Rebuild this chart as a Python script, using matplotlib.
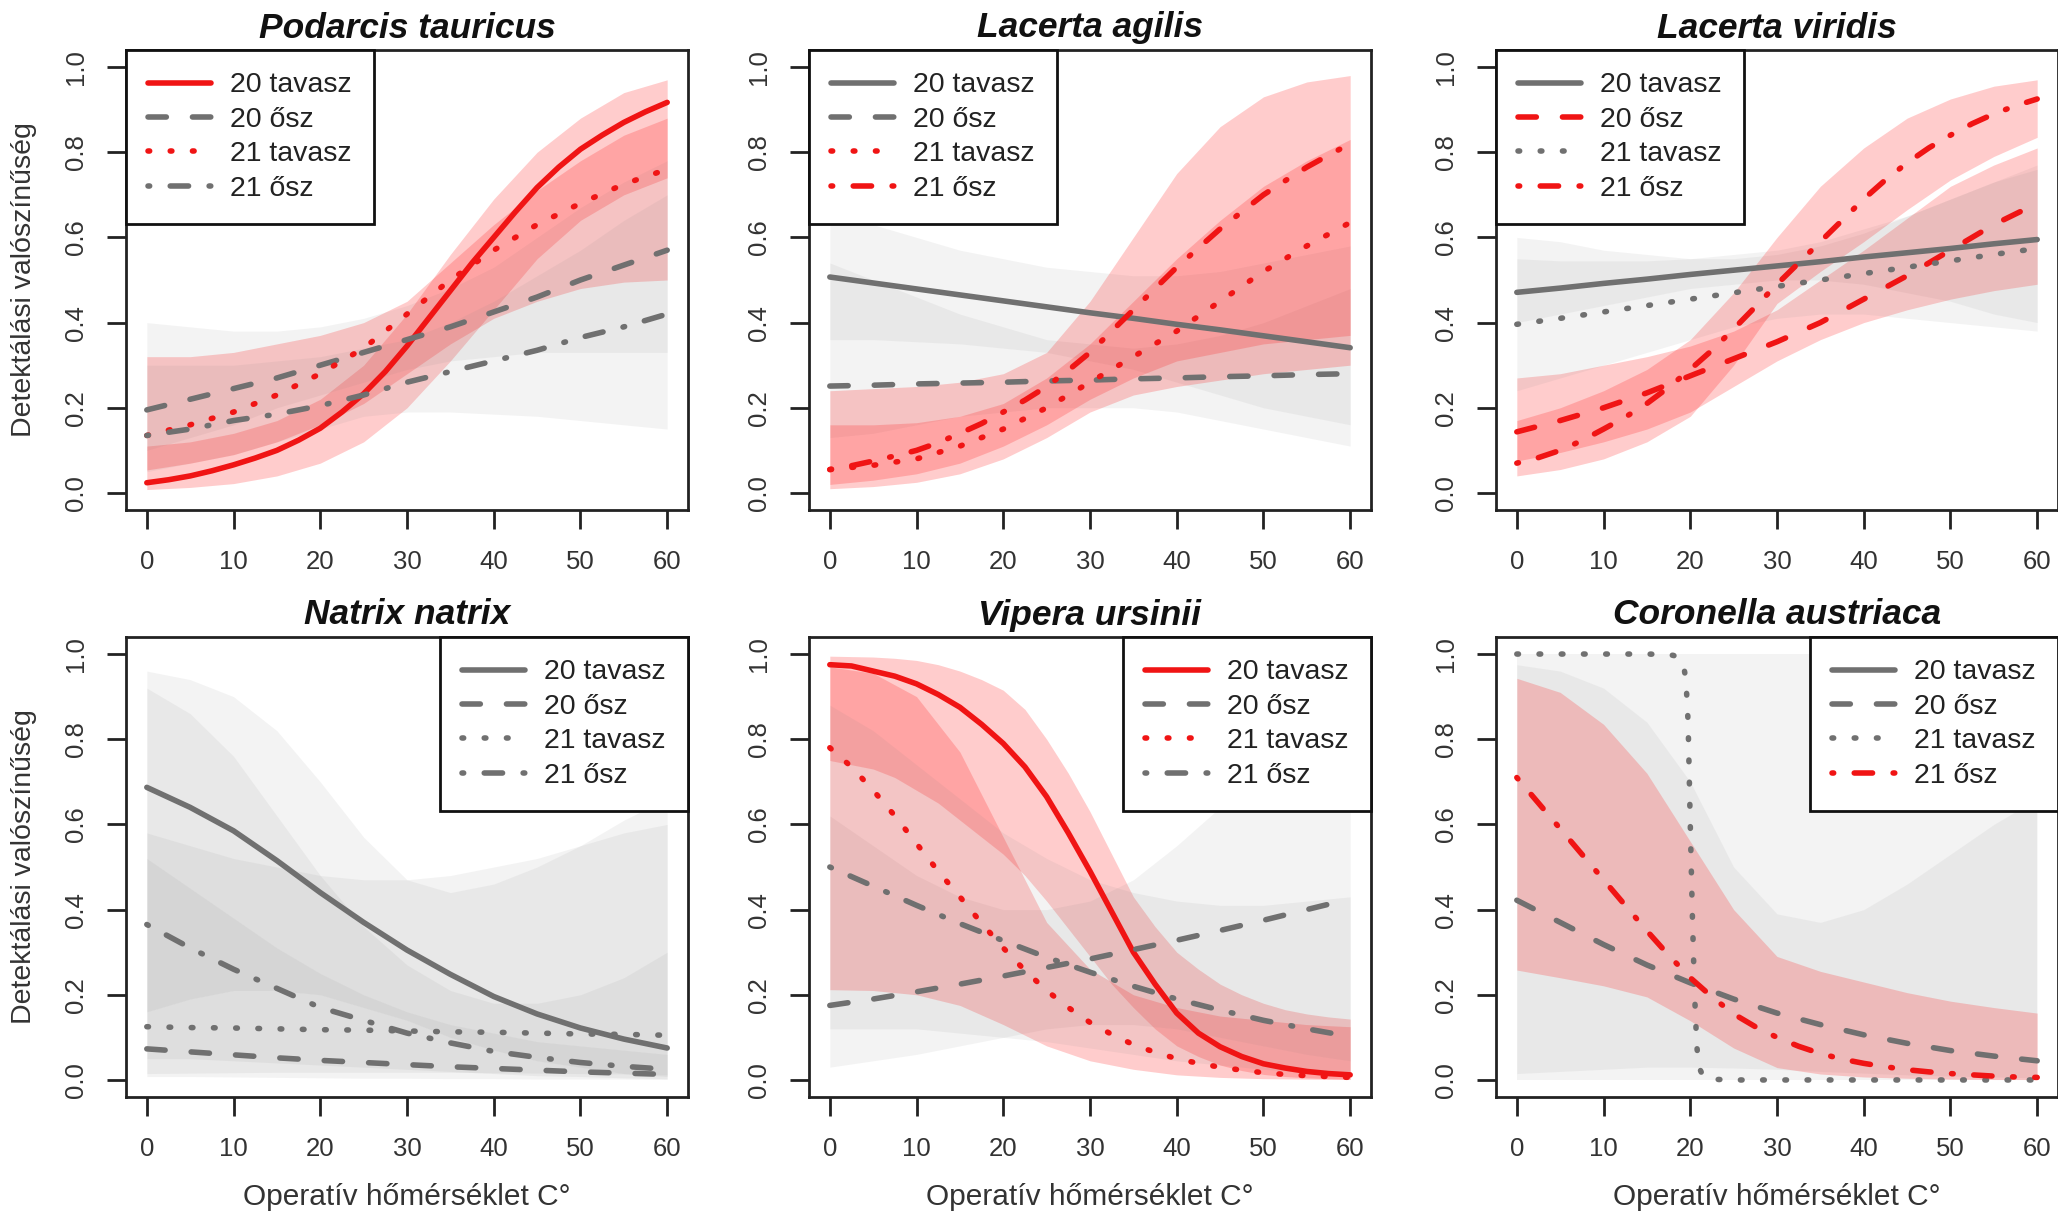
import matplotlib.pyplot as plt
from matplotlib.lines import Line2D

plt.rcParams['font.family'] = ['Liberation Sans', 'DejaVu Sans']
plt.rcParams['lines.dash_capstyle'] = 'round'
plt.rcParams['lines.solid_capstyle'] = 'round'

# operative temperature grids
temp = [0, 5, 10, 15, 20, 25, 30, 35, 40, 45, 50, 55, 60]
temp_fine = [0, 2.5, 5, 7.5, 10, 12.5, 15, 17.5, 20, 22.5, 25, 27.5, 30,
             32.5, 35, 37.5, 40, 42.5, 45, 47.5, 50, 52.5, 55, 57.5, 60]

# ---- Podarcis tauricus ----
pod_t20 = [0.024, 0.031, 0.040, 0.052, 0.066, 0.082, 0.10, 0.124, 0.152, 0.19, 0.233, 0.285, 0.345,
           0.41, 0.475, 0.54, 0.60, 0.66, 0.717, 0.765, 0.807, 0.84, 0.87, 0.895, 0.917]
pod_t20_lo = [0.008, 0.013, 0.022, 0.04, 0.07, 0.12, 0.20, 0.31, 0.43, 0.55, 0.64, 0.70, 0.74]
pod_t20_hi = [0.11, 0.12, 0.14, 0.17, 0.22, 0.30, 0.42, 0.56, 0.69, 0.80, 0.88, 0.94, 0.97]
pod_o20 = [0.195, 0.22, 0.245, 0.27, 0.30, 0.33, 0.36, 0.39, 0.425, 0.46, 0.50, 0.535, 0.57]
pod_o20_lo = [0.10, 0.13, 0.16, 0.20, 0.23, 0.26, 0.29, 0.31, 0.32, 0.33, 0.33, 0.33, 0.33]
pod_o20_hi = [0.40, 0.39, 0.38, 0.38, 0.39, 0.41, 0.44, 0.48, 0.53, 0.60, 0.67, 0.73, 0.78]
pod_t21 = [0.135, 0.16, 0.19, 0.23, 0.28, 0.34, 0.42, 0.50, 0.57, 0.63, 0.68, 0.725, 0.76]
pod_t21_lo = [0.054, 0.07, 0.09, 0.12, 0.16, 0.21, 0.28, 0.35, 0.41, 0.45, 0.48, 0.495, 0.50]
pod_t21_hi = [0.32, 0.32, 0.33, 0.35, 0.37, 0.40, 0.45, 0.54, 0.63, 0.71, 0.78, 0.84, 0.88]
pod_o21 = [0.135, 0.15, 0.17, 0.185, 0.205, 0.23, 0.26, 0.285, 0.31, 0.335, 0.365, 0.39, 0.42]
pod_o21_lo = [0.05, 0.07, 0.09, 0.12, 0.15, 0.18, 0.19, 0.19, 0.185, 0.18, 0.17, 0.16, 0.15]
pod_o21_hi = [0.30, 0.30, 0.30, 0.31, 0.32, 0.34, 0.36, 0.40, 0.45, 0.51, 0.57, 0.64, 0.70]

# ---- Lacerta agilis ----
lag_t20 = [0.507, 0.493, 0.479, 0.465, 0.451, 0.437, 0.423, 0.41, 0.396, 0.383, 0.369, 0.355, 0.341]
lag_t20_lo = [0.36, 0.36, 0.355, 0.35, 0.34, 0.33, 0.31, 0.29, 0.26, 0.23, 0.20, 0.18, 0.16]
lag_t20_hi = [0.655, 0.63, 0.60, 0.57, 0.55, 0.53, 0.52, 0.51, 0.51, 0.52, 0.54, 0.56, 0.58]
lag_o20 = [0.251, 0.253, 0.256, 0.258, 0.26, 0.263, 0.265, 0.268, 0.27, 0.273, 0.275, 0.278, 0.28]
lag_o20_lo = [0.13, 0.14, 0.16, 0.18, 0.19, 0.20, 0.20, 0.20, 0.19, 0.17, 0.15, 0.13, 0.11]
lag_o20_hi = [0.54, 0.50, 0.46, 0.42, 0.39, 0.36, 0.35, 0.34, 0.35, 0.37, 0.40, 0.44, 0.48]
lag_t21 = [0.055, 0.065, 0.08, 0.11, 0.15, 0.20, 0.26, 0.32, 0.38, 0.45, 0.52, 0.58, 0.635]
lag_t21_lo = [0.01, 0.015, 0.025, 0.045, 0.08, 0.13, 0.19, 0.23, 0.25, 0.265, 0.28, 0.29, 0.30]
lag_t21_hi = [0.16, 0.16, 0.165, 0.18, 0.21, 0.27, 0.35, 0.45, 0.55, 0.64, 0.72, 0.78, 0.83]
lag_o21 = [0.055, 0.064, 0.075, 0.087, 0.10, 0.118, 0.14, 0.163, 0.19, 0.218, 0.25, 0.288, 0.33,
           0.38, 0.43, 0.48, 0.53, 0.575, 0.62, 0.66, 0.70, 0.733, 0.765, 0.793, 0.82]
lag_o21_lo = [0.02, 0.03, 0.045, 0.07, 0.11, 0.16, 0.22, 0.27, 0.31, 0.33, 0.35, 0.36, 0.37]
lag_o21_hi = [0.24, 0.245, 0.25, 0.26, 0.28, 0.33, 0.45, 0.60, 0.75, 0.86, 0.93, 0.965, 0.98]

# ---- Lacerta viridis ----
lvi_t20 = [0.471, 0.481, 0.492, 0.502, 0.513, 0.523, 0.533, 0.543, 0.554, 0.564, 0.574, 0.585, 0.595]
lvi_t20_lo = [0.40, 0.42, 0.44, 0.46, 0.48, 0.49, 0.50, 0.50, 0.49, 0.47, 0.45, 0.42, 0.40]
lvi_t20_hi = [0.55, 0.545, 0.545, 0.545, 0.55, 0.56, 0.57, 0.59, 0.62, 0.65, 0.69, 0.73, 0.77]
lvi_o20 = [0.1435, 0.17, 0.20, 0.235, 0.275, 0.315, 0.355, 0.40, 0.455, 0.51, 0.57, 0.63, 0.68]
lvi_o20_lo = [0.075, 0.095, 0.12, 0.15, 0.19, 0.25, 0.31, 0.36, 0.40, 0.43, 0.455, 0.475, 0.49]
lvi_o20_hi = [0.27, 0.28, 0.30, 0.32, 0.345, 0.38, 0.43, 0.50, 0.57, 0.645, 0.72, 0.77, 0.81]
lvi_t21 = [0.396, 0.41, 0.425, 0.44, 0.455, 0.47, 0.485, 0.50, 0.515, 0.53, 0.545, 0.56, 0.574]
lvi_t21_lo = [0.24, 0.27, 0.30, 0.33, 0.36, 0.39, 0.41, 0.42, 0.42, 0.41, 0.40, 0.39, 0.38]
lvi_t21_hi = [0.60, 0.59, 0.57, 0.56, 0.55, 0.55, 0.56, 0.58, 0.61, 0.65, 0.69, 0.73, 0.76]
lvi_o21 = [0.07, 0.083, 0.10, 0.123, 0.15, 0.178, 0.21, 0.248, 0.29, 0.335, 0.385, 0.437, 0.49,
           0.54, 0.59, 0.64, 0.69, 0.735, 0.775, 0.81, 0.84, 0.867, 0.89, 0.909, 0.925]
lvi_o21_lo = [0.04, 0.055, 0.08, 0.12, 0.18, 0.30, 0.445, 0.52, 0.59, 0.665, 0.735, 0.79, 0.835]
lvi_o21_hi = [0.17, 0.20, 0.24, 0.29, 0.36, 0.47, 0.60, 0.72, 0.81, 0.88, 0.925, 0.955, 0.97]

# ---- Natrix natrix ----
nat_t20 = [0.687, 0.64, 0.585, 0.515, 0.44, 0.37, 0.305, 0.248, 0.196, 0.155, 0.122, 0.096, 0.075]
nat_t20_lo = [0.16, 0.19, 0.21, 0.21, 0.20, 0.17, 0.14, 0.10, 0.07, 0.045, 0.03, 0.015, 0.008]
nat_t20_hi = [0.96, 0.94, 0.90, 0.82, 0.70, 0.57, 0.47, 0.44, 0.46, 0.50, 0.55, 0.61, 0.66]
nat_o20 = [0.073, 0.066, 0.059, 0.052, 0.046, 0.041, 0.036, 0.031, 0.027, 0.023, 0.019, 0.016, 0.013]
nat_o20_lo = [0.008, 0.008, 0.007, 0.006, 0.005, 0.004, 0.004, 0.003, 0.003, 0.002, 0.002, 0.002, 0.001]
nat_o20_hi = [0.52, 0.45, 0.38, 0.31, 0.25, 0.20, 0.16, 0.13, 0.11, 0.09, 0.08, 0.07, 0.06]
nat_t21 = [0.125, 0.123, 0.122, 0.12, 0.118, 0.117, 0.115, 0.113, 0.112, 0.11, 0.108, 0.107, 0.105]
nat_t21_lo = [0.015, 0.016, 0.017, 0.018, 0.018, 0.018, 0.018, 0.018, 0.017, 0.016, 0.015, 0.014, 0.012]
nat_t21_hi = [0.58, 0.55, 0.52, 0.50, 0.48, 0.47, 0.47, 0.48, 0.50, 0.52, 0.55, 0.58, 0.60]
nat_o21 = [0.365, 0.31, 0.26, 0.215, 0.17, 0.14, 0.11, 0.087, 0.067, 0.053, 0.041, 0.032, 0.025]
nat_o21_lo = [0.05, 0.05, 0.045, 0.04, 0.035, 0.03, 0.025, 0.02, 0.015, 0.01, 0.008, 0.005, 0.003]
nat_o21_hi = [0.92, 0.86, 0.76, 0.62, 0.48, 0.36, 0.27, 0.21, 0.18, 0.18, 0.20, 0.24, 0.30]

# ---- Vipera ursinii ----
vip_t20 = [0.975, 0.972, 0.96, 0.948, 0.93, 0.905, 0.875, 0.835, 0.79, 0.735, 0.665, 0.58, 0.49,
           0.395, 0.30, 0.225, 0.157, 0.11, 0.078, 0.055, 0.038, 0.028, 0.02, 0.015, 0.012]
vip_t20_lo = [0.75, 0.74, 0.73, 0.71, 0.68, 0.65, 0.61, 0.57, 0.53, 0.48, 0.42, 0.355, 0.29,
              0.225, 0.17, 0.12, 0.08, 0.055, 0.035, 0.022, 0.013, 0.008, 0.005, 0.003, 0.002]
vip_t20_hi = [0.995, 0.994, 0.993, 0.99, 0.985, 0.975, 0.96, 0.94, 0.915, 0.87, 0.80, 0.72, 0.63,
              0.53, 0.43, 0.36, 0.30, 0.26, 0.225, 0.20, 0.18, 0.165, 0.155, 0.148, 0.143]
vip_o20 = [0.175, 0.19, 0.207, 0.225, 0.244, 0.264, 0.284, 0.306, 0.328, 0.351, 0.375, 0.40, 0.425]
vip_o20_lo = [0.03, 0.045, 0.06, 0.08, 0.10, 0.12, 0.13, 0.13, 0.12, 0.10, 0.08, 0.06, 0.045]
vip_o20_hi = [0.62, 0.55, 0.48, 0.43, 0.40, 0.40, 0.42, 0.47, 0.55, 0.64, 0.73, 0.81, 0.88]
vip_t21 = [0.78, 0.735, 0.68, 0.62, 0.555, 0.49, 0.43, 0.368, 0.31, 0.257, 0.21, 0.17, 0.135,
           0.107, 0.083, 0.065, 0.05, 0.039, 0.03, 0.023, 0.017, 0.013, 0.01, 0.008, 0.006]
vip_t21_lo = [0.212, 0.21, 0.20, 0.175, 0.13, 0.08, 0.045, 0.025, 0.012, 0.006, 0.003, 0.002, 0.001]
vip_t21_hi = [0.97, 0.955, 0.90, 0.77, 0.57, 0.37, 0.26, 0.20, 0.17, 0.15, 0.14, 0.13, 0.125]
vip_o21 = [0.50, 0.455, 0.41, 0.367, 0.327, 0.288, 0.253, 0.22, 0.19, 0.164, 0.14, 0.12, 0.102]
vip_o21_lo = [0.12, 0.12, 0.12, 0.11, 0.10, 0.09, 0.075, 0.06, 0.045, 0.035, 0.025, 0.018, 0.012]
vip_o21_hi = [0.88, 0.82, 0.74, 0.66, 0.58, 0.52, 0.47, 0.44, 0.42, 0.41, 0.41, 0.42, 0.43]

# ---- Coronella austriaca (no 20 tavasz curve drawn) ----
cor_o20 = [0.422, 0.37, 0.318, 0.27, 0.228, 0.19, 0.157, 0.13, 0.106, 0.086, 0.069, 0.056, 0.045]
cor_o20_lo = [0.015, 0.02, 0.025, 0.03, 0.03, 0.028, 0.025, 0.02, 0.016, 0.012, 0.009, 0.007, 0.005]
cor_o20_hi = [0.975, 0.96, 0.92, 0.84, 0.70, 0.50, 0.39, 0.37, 0.40, 0.46, 0.53, 0.60, 0.66]
cor_t21_temp = [0, 5, 10, 15, 17, 18, 18.5, 19, 19.25, 19.5, 19.75, 20, 20.25, 20.5, 20.75,
                21, 21.5, 22, 25, 30, 35, 40, 45, 50, 55, 60]
cor_t21 = [1.0, 1.0, 1.0, 1.0, 0.999, 0.997, 0.994, 0.985, 0.97, 0.94, 0.84, 0.6, 0.38, 0.2, 0.08,
           0.03, 0.008, 0.002, 0.0, 0.0, 0.0, 0.0, 0.0, 0.0, 0.0, 0.0]
cor_t21_lo = [0.0, 0.0, 0.0, 0.0, 0.0, 0.0, 0.0, 0.0, 0.0, 0.0, 0.0, 0.0, 0.0]
cor_t21_hi = [1.0, 1.0, 1.0, 1.0, 1.0, 1.0, 1.0, 1.0, 1.0, 1.0, 1.0, 1.0, 1.0]
cor_o21 = [0.71, 0.65, 0.59, 0.53, 0.47, 0.41, 0.35, 0.293, 0.24, 0.195, 0.155, 0.125, 0.10,
           0.079, 0.062, 0.049, 0.039, 0.031, 0.024, 0.019, 0.015, 0.012, 0.009, 0.007, 0.006]
cor_o21_lo = [0.258, 0.24, 0.221, 0.195, 0.139, 0.075, 0.029, 0.014, 0.007, 0.004, 0.002, 0.001, 0.001]
cor_o21_hi = [0.943, 0.91, 0.835, 0.72, 0.56, 0.40, 0.29, 0.255, 0.23, 0.205, 0.185, 0.17, 0.157]

seasons = ['20 tavasz', '20 ősz', '21 tavasz', '21 ősz']
yticks = [0.0, 0.2, 0.4, 0.6, 0.8, 1.0]
ytick_labels = ['0.0', '0.2', '0.4', '0.6', '0.8', '1.0']
xticks = [0, 10, 20, 30, 40, 50, 60]

# (title, {season: (x, mean, band_x, lo, hi)}, seasons drawn in red)
panels = [
    ('Podarcis tauricus',
     {'20 tavasz': (temp_fine, pod_t20, temp, pod_t20_lo, pod_t20_hi),
      '20 ősz': (temp, pod_o20, temp, pod_o20_lo, pod_o20_hi),
      '21 tavasz': (temp, pod_t21, temp, pod_t21_lo, pod_t21_hi),
      '21 ősz': (temp, pod_o21, temp, pod_o21_lo, pod_o21_hi)},
     ['20 tavasz', '21 tavasz']),
    ('Lacerta agilis',
     {'20 tavasz': (temp, lag_t20, temp, lag_t20_lo, lag_t20_hi),
      '20 ősz': (temp, lag_o20, temp, lag_o20_lo, lag_o20_hi),
      '21 tavasz': (temp, lag_t21, temp, lag_t21_lo, lag_t21_hi),
      '21 ősz': (temp_fine, lag_o21, temp, lag_o21_lo, lag_o21_hi)},
     ['21 tavasz', '21 ősz']),
    ('Lacerta viridis',
     {'20 tavasz': (temp, lvi_t20, temp, lvi_t20_lo, lvi_t20_hi),
      '20 ősz': (temp, lvi_o20, temp, lvi_o20_lo, lvi_o20_hi),
      '21 tavasz': (temp, lvi_t21, temp, lvi_t21_lo, lvi_t21_hi),
      '21 ősz': (temp_fine, lvi_o21, temp, lvi_o21_lo, lvi_o21_hi)},
     ['20 ősz', '21 ősz']),
    ('Natrix natrix',
     {'20 tavasz': (temp, nat_t20, temp, nat_t20_lo, nat_t20_hi),
      '20 ősz': (temp, nat_o20, temp, nat_o20_lo, nat_o20_hi),
      '21 tavasz': (temp, nat_t21, temp, nat_t21_lo, nat_t21_hi),
      '21 ősz': (temp, nat_o21, temp, nat_o21_lo, nat_o21_hi)},
     []),
    ('Vipera ursinii',
     {'20 tavasz': (temp_fine, vip_t20, temp_fine, vip_t20_lo, vip_t20_hi),
      '20 ősz': (temp, vip_o20, temp, vip_o20_lo, vip_o20_hi),
      '21 tavasz': (temp_fine, vip_t21, temp, vip_t21_lo, vip_t21_hi),
      '21 ősz': (temp, vip_o21, temp, vip_o21_lo, vip_o21_hi)},
     ['20 tavasz', '21 tavasz']),
    ('Coronella austriaca',
     {'20 ősz': (temp, cor_o20, temp, cor_o20_lo, cor_o20_hi),
      '21 tavasz': (cor_t21_temp, cor_t21, temp, cor_t21_lo, cor_t21_hi),
      '21 ősz': (temp_fine, cor_o21, temp, cor_o21_lo, cor_o21_hi)},
     ['21 ősz']),
]

RED = '#F01414'
GREY = '#707070'
styles = {'20 tavasz': '-', '20 ősz': (0, (3.3, 4.7)),
          '21 tavasz': (0, (0.3, 3.7)), '21 ősz': (0, (0.3, 3.7, 3.3, 3.7))}
LW = 4.0

W, H = 2058, 1213
lefts = [126, 809, 1496]
tops = [50, 637]
pw, ph = 562, 460

fig = plt.figure(figsize=(W / 100, H / 100), dpi=100)

for i, (name, series, reds) in enumerate(panels):
    row, col = divmod(i, 3)
    ax = fig.add_axes([lefts[col] / W, 1 - (tops[row] + ph) / H, pw / W, ph / H])

    # confidence bands
    for s in seasons:
        if s not in series:
            continue
        x, m, bx, lo, hi = series[s]
        if s in reds:
            ax.fill_between(bx, lo, hi, color='#FF1A1A', alpha=0.22, linewidth=0)
        else:
            ax.fill_between(bx, lo, hi, color='#808080', alpha=0.09, linewidth=0)
    # fitted curves
    for s in seasons:
        if s not in series:
            continue
        x, m, bx, lo, hi = series[s]
        c = RED if s in reds else GREY
        ax.plot(x, m, color=c, lw=LW, linestyle=styles[s])

    ax.set_xlim(-2.4, 62.4)
    ax.set_ylim(-0.04, 1.04)
    ax.set_xticks(xticks)
    ax.set_yticks(yticks)
    ax.set_yticklabels(ytick_labels)
    ax.tick_params(axis='both', direction='out', length=13.7, width=2,
                   labelsize=18.5, color='#222222', labelcolor='#333333')
    ax.tick_params(axis='y', pad=22.3)
    ax.tick_params(axis='x', pad=23.5)
    for lab in ax.get_yticklabels():
        lab.set_rotation(90)
        lab.set_ha('center')
        lab.set_va('center')
    for lab in ax.get_xticklabels():
        lab.set_va('center')
    for sp in ax.spines.values():
        sp.set_linewidth(2)
        sp.set_color('#222222')

    handles = [Line2D([], [], color=RED if s in reds else GREY, lw=LW, linestyle=styles[s])
               for s in seasons]
    leg = ax.legend(handles, seasons, loc='upper left' if row == 0 else 'upper right',
                    borderaxespad=0, fancybox=False, framealpha=1, edgecolor='#111111',
                    fontsize=20.5, handlelength=2.2, handletextpad=0.67, borderpad=0.79,
                    labelspacing=0.295)
    leg.get_frame().set_linewidth(2)
    for t in leg.get_texts():
        t.set_color('#222222')

    ax.text(0.5, 1 + 22 / ph, name, transform=ax.transAxes,
            ha='center', va='center', fontsize=25.5, fontweight='bold', fontstyle='italic',
            color='#111111')

    if col == 0:
        fig.text(24 / W, 1 - (tops[row] + ph / 2) / H, 'Detektálási valószínűség',
                 rotation=90, ha='center', va='center', fontsize=20.5, color='#333333')
    if row == 1:
        fig.text((lefts[col] + pw / 2) / W, 1 - 1197 / H, 'Operatív hőmérséklet C°',
                 ha='center', va='center', fontsize=21.5, color='#333333')

fig.savefig('out.png', dpi=100)
